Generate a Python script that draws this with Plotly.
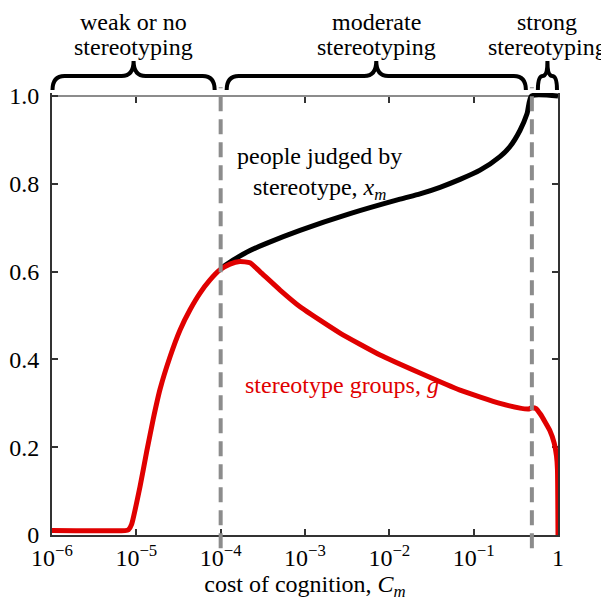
import numpy as np
import plotly.graph_objects as go

# ---------------- data ----------------
xm_cost = [1.0e-4, 1.40e-4, 2.23e-4, 3.55e-4, 8.73e-4, 3.42e-3, 1.34e-2, 2.31e-2,
           3.99e-2, 6.89e-2, 0.119, 0.205, 0.270, 0.355, 0.430, 0.485, 1.0]
xm_vals = [0.607, 0.626, 0.648, 0.665, 0.694, 0.732, 0.765, 0.777,
           0.792, 0.810, 0.831, 0.862, 0.885, 0.922, 0.960, 1.0, 1.0]

g_cost = [1.0e-6, 7.35e-6, 8.07e-6, 8.81e-6, 1.105e-5, 1.327e-5, 1.589e-5, 1.91e-5,
          2.51e-5, 3.30e-5, 4.33e-5, 5.69e-5, 7.48e-5, 9.82e-5, 1.29e-4, 1.69e-4,
          2.23e-4, 2.92e-4, 5.06e-4, 8.73e-4, 2.6e-3, 7.76e-3, 2.31e-2, 6.89e-2,
          0.205, 0.355, 0.45, 0.49, 0.55, 0.62, 0.70, 0.80, 0.90, 0.96, 0.985, 1.0]
g_vals = [0.010, 0.010, 0.012, 0.025, 0.110, 0.190, 0.265, 0.332,
          0.406, 0.467, 0.513, 0.551, 0.581, 0.604, 0.617, 0.623,
          0.620, 0.600, 0.558, 0.520, 0.460, 0.410, 0.369, 0.330,
          0.300, 0.289, 0.287, 0.290, 0.288, 0.275, 0.258, 0.238, 0.210, 0.180, 0.150, 0.0]

regime_bounds = [1e-6, 1e-4, 0.49, 1.0]
regime_lines = [["weak or no", "stereotyping"], ["moderate", "stereotyping"],
                ["strong", "stereotyping"]]

x_tickvals = [1e-6, 1e-5, 1e-4, 1e-3, 1e-2, 1e-1, 1]
x_ticktext = ["10<sup>\u22126</sup>", "10<sup>\u22125</sup>", "10<sup>\u22124</sup>",
              "10<sup>\u22123</sup>", "10<sup>\u22122</sup>", "10<sup>\u22121</sup>", "1"]
y_tickvals = [0, 0.2, 0.4, 0.6, 0.8, 1.0]
y_ticktext = ["0", "0.2", "0.4", "0.6", "0.8", "1.0"]

# ---------------- style ----------------
FONT = "Liberation Serif"
RED = "#e00000"
DARK = "#333333"
GRAY = "#8c8c8c"
XMIN, XMAX = -6, 0
# page body has an 8px default margin, so the figure is sized/offset to compensate
W, H = 601, 596
ML, MR, MT, MB = 44, 51, 85, 69
PW = W - ML - MR
PH = H - MT - MB
YTOP = 1.0 + 3.0 / (PH - 3.0)   # a little headroom so the flat x_m=1 line is not clipped
Y1 = 1.0 / YTOP                 # domain fraction of the value 1.0


def frac(c):
    return (np.log10(c) - XMIN) / (XMAX - XMIN)


def ydom(v):
    return v / YTOP


fig = go.Figure()

fig.add_trace(go.Scatter(x=xm_cost, y=xm_vals, mode="lines",
                         line=dict(color="black", width=5, shape="spline", smoothing=0.6),
                         cliponaxis=False, hoverinfo="skip", showlegend=False))
fig.add_trace(go.Scatter(x=g_cost, y=g_vals, mode="lines", xaxis="x2",
                         line=dict(color=RED, width=5, shape="spline", smoothing=0.45),
                         cliponaxis=False, hoverinfo="skip", showlegend=False))

shapes = []
# dashed regime boundaries
for b in regime_bounds[1:-1]:
    f = frac(b)
    shapes.append(dict(type="line", xref="x domain", yref="y domain",
                       x0=f, x1=f, y0=ydom(-0.03), y1=ydom(1.02),
                       line=dict(color=GRAY, width=4, dash="15px,8px"), layer="above"))

# braces
gap = 6.0 / PW
yb = Y1 + 6.0 / PH
yh = Y1 + 20.0 / PH
yt = Y1 + 35.0 / PH
brace_mid = []
for i in range(3):
    f0 = frac(regime_bounds[i]) + (gap if i > 0 else 0.001)
    f1 = frac(regime_bounds[i + 1]) - (gap if i < 2 else 0.002)
    fm = 0.5 * (f0 + f1)
    brace_mid.append(fm)
    r = min(12.0 / PW, (f1 - f0) / 4)
    p = (f"M {f0},{yb} Q {f0},{yh} {f0 + r},{yh} L {fm - r},{yh} "
         f"Q {fm},{yh} {fm},{yt} Q {fm},{yh} {fm + r},{yh} "
         f"L {f1 - r},{yh} Q {f1},{yh} {f1},{yb}")
    shapes.append(dict(type="path", xref="x domain", yref="y domain", path=p,
                       line=dict(color="black", width=4), layer="above"))

annotations = []
line_offsets = [74.0, 49.0]
for i, lines in enumerate(regime_lines):
    for txt, off in zip(lines, line_offsets):
        annotations.append(dict(text=txt, xref="x domain", yref="y domain", x=brace_mid[i],
                                y=Y1 + off / PH, xanchor="center", yanchor="middle",
                                showarrow=False,
                                font=dict(family=FONT, size=24, color="black")))

annotations.append(dict(text="people judged by<br>stereotype, <i>x</i><sub><i>m</i></sub>",
                        x=np.log10(1.47e-3), y=0.823, xref="x", yref="y",
                        showarrow=False, font=dict(family=FONT, size=24, color="black")))
annotations.append(dict(text="stereotype groups, <i>g</i>",
                        x=np.log10(2.75e-3), y=0.341, xref="x", yref="y",
                        showarrow=False, font=dict(family=FONT, size=24, color=RED)))

axis_common = dict(showgrid=False, zeroline=False, ticks="inside", ticklen=6,
                   tickwidth=1.5, tickcolor=DARK, layer="below traces", automargin=False)

fig.update_layout(
    width=W, height=H,
    margin=dict(l=ML, r=MR, t=MT, b=MB, pad=0),
    paper_bgcolor="white", plot_bgcolor="white",
    font=dict(family=FONT, size=24, color="black"),
    showlegend=False,
    xaxis=dict(type="log", range=[XMIN, XMAX], tickvals=x_tickvals, ticktext=x_ticktext,
               showline=True, linecolor=DARK, linewidth=2, mirror=False,
               tickfont=dict(family=FONT, size=24, color="black"),
               ticklabelstandoff=0,
               title=dict(text="cost of cognition, <i>C</i><sub><i>m</i></sub>",
                          font=dict(family=FONT, size=24, color="black"), standoff=2),
               **axis_common),
    xaxis2=dict(type="log", range=[XMIN, XMAX], tickvals=x_tickvals, overlaying="x",
                side="top", showticklabels=False, showline=True, linecolor=GRAY,
                linewidth=1.5, anchor="free", position=Y1, **axis_common),
    yaxis=dict(range=[0, YTOP], tickvals=y_tickvals, ticktext=y_ticktext,
               showline=True, linecolor=DARK, linewidth=2, mirror="ticks",
               tickfont=dict(family=FONT, size=24, color="black"),
               ticklabelstandoff=6, **axis_common),
    shapes=shapes,
    annotations=annotations,
)

fig.write_html("out.html")
